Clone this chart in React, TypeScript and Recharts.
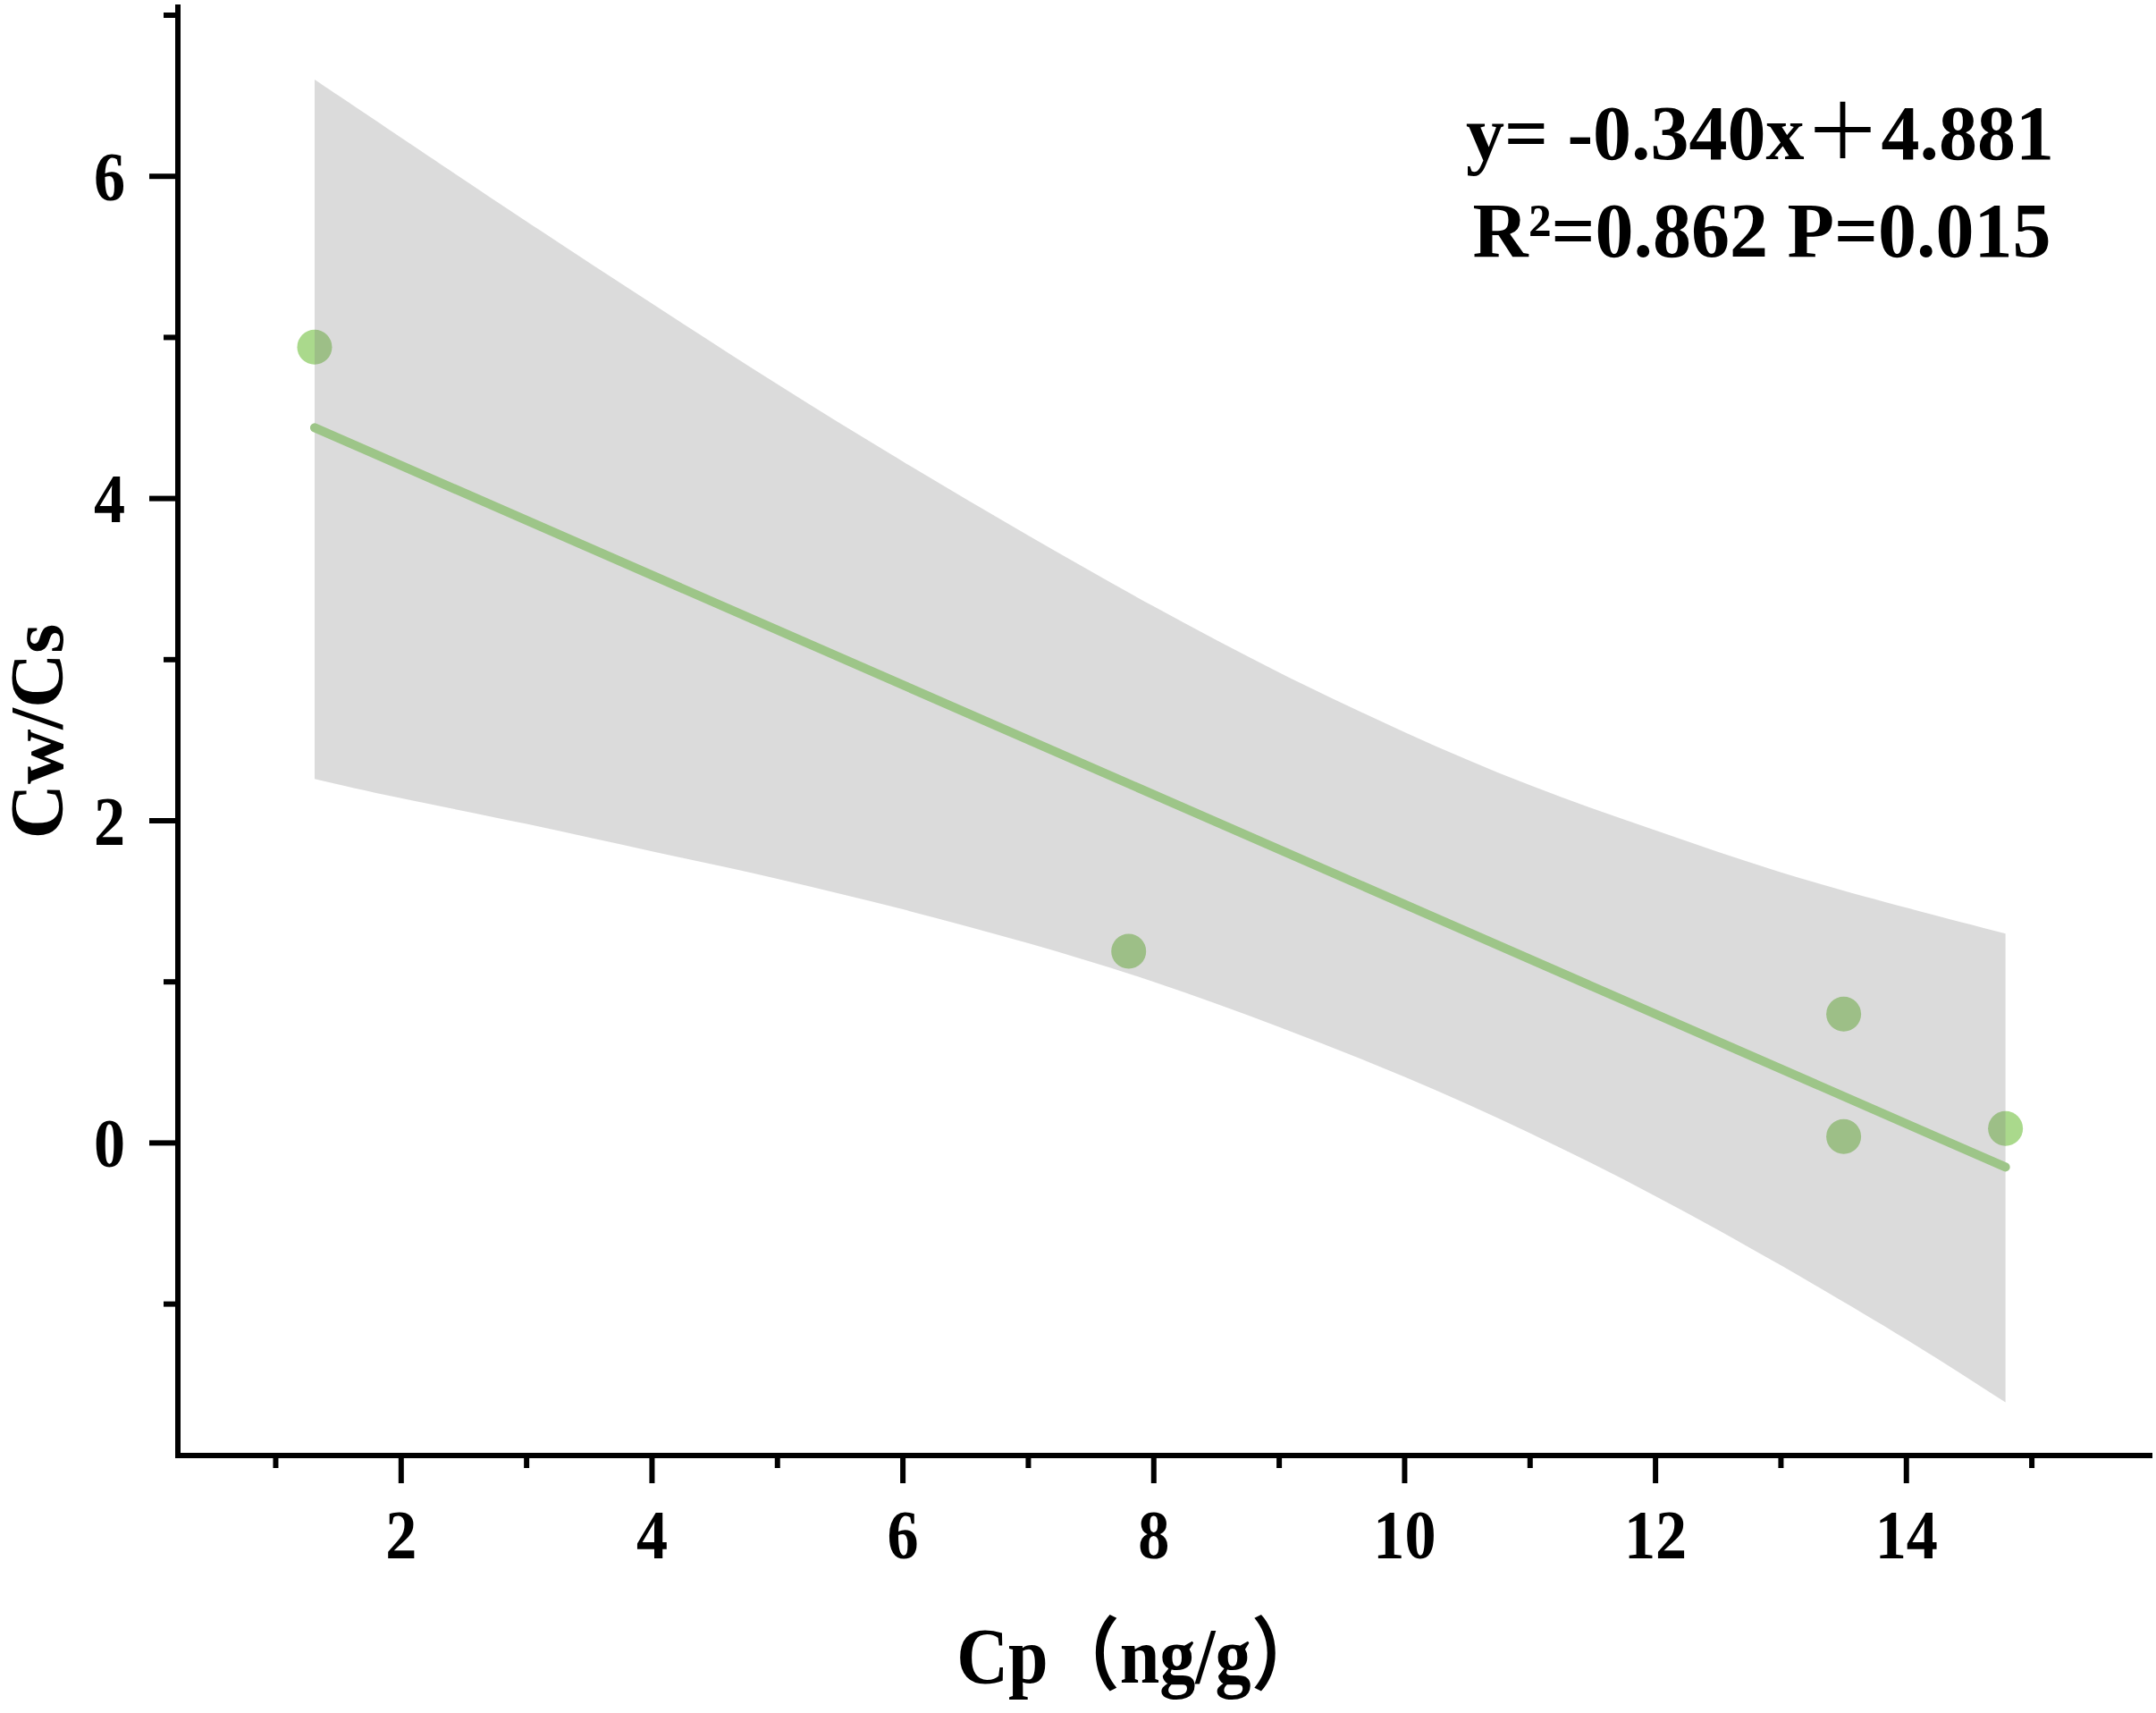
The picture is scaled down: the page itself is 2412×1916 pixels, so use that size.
import React from 'react';
import { ComposedChart, XAxis, YAxis, Scatter, Line, Area, Customized } from 'recharts';

// Observed points (Cp, Cw/Cs)
const pointX = [1.31, 7.8, 13.5, 13.5, 14.79];
const pointY = [4.94, 1.19, 0.8, 0.04, 0.09];

// Fitted line endpoints
const fitX = [1.31, 14.79];
const fitY = [4.44, -0.15];

// Confidence band
const bandX = [1.31, 2, 3, 4, 5, 6, 7, 8, 9, 10, 11, 12, 13, 14, 14.79];
const bandUpper = [6.6, 6.24, 5.72, 5.21, 4.71, 4.23, 3.77, 3.33, 2.92, 2.55, 2.22, 1.94, 1.68, 1.46, 1.3];
const bandLower = [2.26, 2.14, 1.98, 1.81, 1.64, 1.45, 1.24, 1.0, 0.72, 0.41, 0.06, -0.33, -0.76, -1.22, -1.61];

const xTicks = [1, 2, 3, 4, 5, 6, 7, 8, 9, 10, 11, 12, 13, 14, 15];
const xMajor = [2, 4, 6, 8, 10, 12, 14];
const yTicks = [-1, 0, 1, 2, 3, 4, 5, 6, 7];
const yMajor = [0, 2, 4, 6];

const eqLine1a = 'y= -0.340x';
const eqPlus = '＋';
const eqLine1b = '4.881';
const eqLine2 = 'R²=0.862 P=0.015';
const xTitle = 'Cp（ng/g）';
const yTitle = 'Cw/Cs';

const scatterData = pointX.map((x, i) => ({ x, y: pointY[i] }));
const fitData = fitX.map((x, i) => ({ x, y: fitY[i] }));
const bandData = bandX.map((x, i) => ({ x, band: [bandLower[i], bandUpper[i]] }));

const FONT = "Liberation Serif, Times New Roman, Noto Sans CJK SC, serif";

const XTick = (props: any) => {
  const { x, y, payload } = props;
  const major = xMajor.includes(payload.value);
  return (
    <g>
      <line x1={x} y1={y} x2={x} y2={y + (major ? 31 : 14)} stroke="#000" strokeWidth={6} />
      {major && (
        <text
          transform={`translate(${x},${y + 115}) scale(0.9,1)`}
          textAnchor="middle"
          fontFamily={FONT}
          fontWeight="bold"
          fontSize={78}
          fill="#000"
        >
          {payload.value}
        </text>
      )}
    </g>
  );
};

const YTick = (props: any) => {
  const { x, y, payload } = props;
  const major = yMajor.includes(payload.value);
  return (
    <g>
      <line x1={x} y1={y} x2={x - (major ? 32 : 16)} y2={y} stroke="#000" strokeWidth={6} />
      {major && (
        <text
          transform={`translate(${x - 59},${y + 26.5}) scale(0.9,1)`}
          textAnchor="end"
          fontFamily={FONT}
          fontWeight="bold"
          fontSize={78}
          fill="#000"
        >
          {payload.value}
        </text>
      )}
    </g>
  );
};

const Texts = () => (
  <g fontFamily={FONT} fontWeight="bold" fill="#000">
    <text x={1969} y={178} textAnchor="middle" fontSize={86}>
      {eqLine1a}
      <tspan fontWeight={400}>{eqPlus}</tspan>
      {eqLine1b}
    </text>
    <text x={1971} y={287} textAnchor="middle" fontSize={86}>
      {eqLine2}
    </text>
    <text transform="translate(1275,1882) scale(0.9,1)" textAnchor="middle" fontSize={89}>
      {xTitle}
    </text>
    <text transform="translate(70,818) rotate(-90)" textAnchor="middle" fontSize={85}>
      {yTitle}
    </text>
  </g>
);

const Dot = (props: any) => {
  const { cx, cy } = props;
  return <circle cx={cx} cy={cy} r={19.5} fill="#aad98c" />;
};

export default function App() {
  return (
    <div style={{ position: 'absolute', left: 0, top: 0, width: 2412, height: 1916, background: '#fff' }}>
      <ComposedChart
        width={2412}
        height={1916}
        margin={{ top: 8, right: 7, bottom: 238, left: 149 }}
      >
        <XAxis
          dataKey="x"
          type="number"
          domain={[0.22, 15.94]}
          allowDataOverflow
          ticks={xTicks}
          interval={0}
          height={50}
          tickSize={0}
          tickMargin={0}
          tickLine={false}
          axisLine={{ stroke: '#000', strokeWidth: 6, strokeLinecap: 'square' }}
          tick={<XTick />}
        />
        <YAxis
          dataKey="y"
          type="number"
          domain={[-1.94, 7.05]}
          allowDataOverflow
          ticks={yTicks}
          interval={0}
          width={50}
          tickSize={0}
          tickMargin={0}
          tickLine={false}
          axisLine={{ stroke: '#000', strokeWidth: 6, strokeLinecap: 'square' }}
          tick={<YTick />}
        />
        <Scatter data={scatterData} dataKey="y" shape={<Dot />} isAnimationActive={false} zIndex={100} />
        <Area
          data={bandData}
          dataKey="band"
          type="natural"
          stroke="none"
          fill="#7a7a7a"
          fillOpacity={0.27}
          isAnimationActive={false}
          activeDot={false}
          zIndex={700}
        />
        <Line
          data={fitData}
          dataKey="y"
          type="linear"
          stroke="#9dc588"
          strokeWidth={10}
          strokeLinecap="round"
          dot={false}
          activeDot={false}
          isAnimationActive={false}
          zIndex={800}
        />
        <Customized component={Texts} />
      </ComposedChart>
    </div>
  );
}
